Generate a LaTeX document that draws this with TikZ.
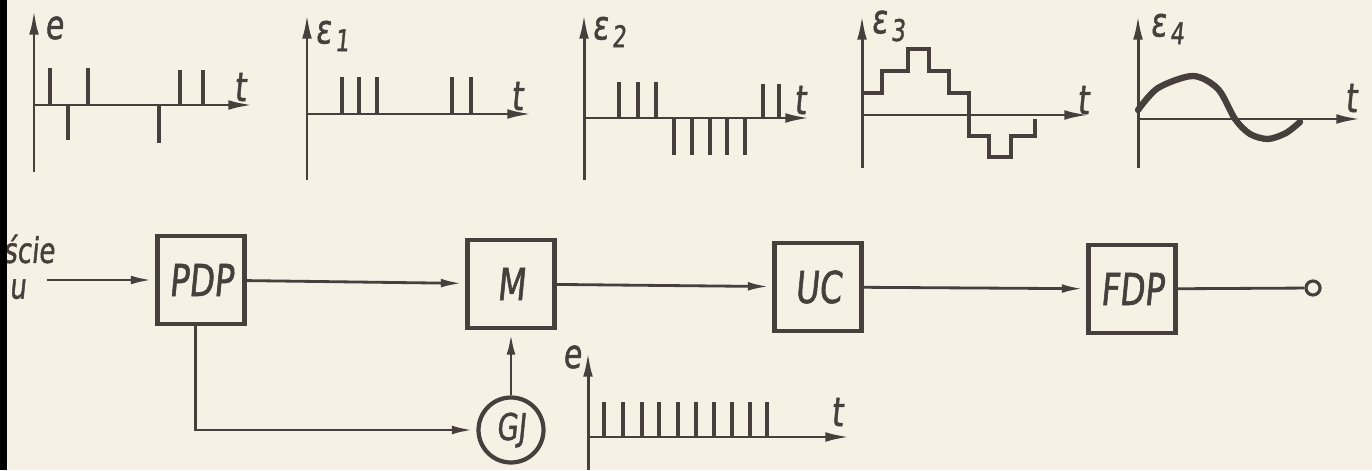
\documentclass[tikz,border=0pt]{standalone}
\usepackage{fontspec}
\newfontfamily\handfont[FakeStretch=0.74,FakeSlant=0.1,FakeBold=1.2]{DejaVu Sans}
\usetikzlibrary{arrows.meta}
\definecolor{paper}{RGB}{246,240,229}
\definecolor{ink}{RGB}{72,62,60}
\newcommand\epslab[1]{ε\kern2pt\raisebox{-0.35ex}{\fontsize{17}{19}\selectfont #1}}

\begin{document}
\begin{tikzpicture}[
	x=0.02cm, y=-0.02cm,
	block/.style={ draw=ink, line width=2.4pt, minimum width=1.74cm, minimum height=1.76cm, inner sep=0pt, text=ink, font=\handfont\fontsize{25}{28}\selectfont },
	gen/.style={ circle, draw=ink, line width=2.4pt, minimum size=1.3cm, inner sep=0pt, text=ink, font=\handfont\fontsize{21}{24}\selectfont },
	term/.style={ circle, draw=ink, line width=1.8pt, minimum size=8pt, inner sep=0pt },
	conn/.style={ draw=ink, line width=1.6pt, -{Latex[length=12pt,width=5pt]}, shorten >=2pt },
	axis/.style={ draw=ink, line width=1.7pt, -{Latex[length=14pt,width=5.5pt]} },
	spike/.style={ draw=ink, line width=2.4pt },
	lbl/.style={ inner sep=0pt, text=ink, font=\handfont\fontsize{23}{26}\selectfont },
	inlbl/.style={ lbl, anchor=west, font=\handfont\fontsize{20}{22}\selectfont }
]
\useasboundingbox (0,0) rectangle (1372,470);
\fill[paper] (0,0) rectangle (1372,470);
\clip (0,0) rectangle (1372,470);

% pulses from the sampler
\begin{scope}[shift={(34,105)}]
	\draw[axis] (0,67) -- (0,-95);
	\draw[axis] (0,0) -- (219,0);
	\foreach \x/\h in {16/-37,34/35,54/-37,125/38,146/-35,169/-35} \draw[spike] (\x,0) -- (\x,\h);
	\node (lbe) [lbl] at (20,-77) {e};
	\node (lbt1) [lbl] at (206,-18) {t};
\end{scope}

\begin{scope}[shift={(307,114)}]
	% after shaping
	\draw[axis] (0,66) -- (0,-100);
	\draw[axis] (0,0) -- (225,0);
	\foreach \x in {35,52,70,145,164} \draw[spike] (\x,0) -- (\x,-37);
	\node (lbe1) [lbl] at (25,-78) {\epslab{1}};
	\node (lbt2) [lbl] at (210,-18) {t};
\end{scope}

\begin{scope}[shift={(584,118)}]
	% after modulation
	\draw[axis] (0,62) -- (0,-104);
	\draw[axis] (0,0) -- (226,0);
	\foreach \x in {35,54,72} \draw[spike] (\x,0) -- (\x,-36);
	\foreach \x in {90,108,126,143,161} \draw[spike] (\x,0) -- (\x,37);
	\foreach \x in {179,195} \draw[spike] (\x,0) -- (\x,-34);
	\node (lbe2) [lbl] at (25,-86) {\epslab{2}};
	\node (lbt3) [lbl] at (216,-18) {t};
\end{scope}

\begin{scope}[shift={(862,115)}]
	% counter output
	\draw[axis] (0,53) -- (0,-100);
	\draw[axis] (0,0) -- (227,0);
	\draw[ink, line width=2.2pt] (0,-22) -- (20,-22) -- (20,-44) -- (46,-44) -- (46,-66)
		-- (67,-66) -- (67,-44) -- (87,-44) -- (87,-22) -- (107,-22) -- (107,21)
		-- (127,21) -- (127,42) -- (149,42) -- (149,21) -- (173,21) -- (173,4);
	\node (lbe3) [lbl] at (26,-89) {\epslab{3}};
	\node (lbt4) [lbl] at (221,-15) {t};
\end{scope}

\begin{scope}[shift={(1138,119)}]
	% filtered output
	\draw[axis] (0,49) -- (0,-104);
	\draw[axis] (0,0) -- (223,0);
	\draw[ink, line width=3.6pt, line cap=round] plot[smooth] coordinates
		{(0,-9) (20,-31) (55,-43) (80,-30) (97,0) (112,15) (130,20) (148,14) (162,3)};
	\node (lbe4) [lbl] at (29,-90) {\epslab{4}};
	\node (lbt5) [lbl] at (213,-21) {t};
\end{scope}

% block diagram
\node (PDP) [block] at (201,280) {PDP};
\node (M) [block] at (511,284) {M};
\node (UC) [block] at (818,287) {UC};
\node (FDP) [block] at (1132,289) {FDP};
\node (GJ) [gen] at (511,430) {GJ};
\node (out) [term] at (1313,288) {};
\coordinate (in) at (47,280);
\node (inA) [inlbl] at (3,249) {ście};
\node (inB) [inlbl] at (9,289) {u};

\draw[conn] (in) -- (PDP);
\draw[conn] (PDP) -- (M);
\draw[conn] (M) -- (UC);
\draw[conn] (UC) -- (FDP);
\draw[ink, line width=1.6pt] (FDP) -- (out);
\draw[conn] ([xshift=-3]PDP.south) |- (GJ);
\draw[conn] (GJ) -- (M);

% clock pulses
\begin{scope}[shift={(588,437)}]
	\draw[axis] (0,33) -- (0,-85);
	\draw[axis] (0,0) -- (262,0);
	\foreach \x in {16,35,54,71,90,108,126,144,162,179} \draw[spike] (\x,0) -- (\x,-35);
	\node (lbe5) [lbl] at (-16,-80) {e};
	\node (lbt6) [lbl] at (249,-25) {t};
\end{scope}

% scan edge
\fill[black] (0,0) rectangle (7,470);

\end{tikzpicture}
\end{document}
